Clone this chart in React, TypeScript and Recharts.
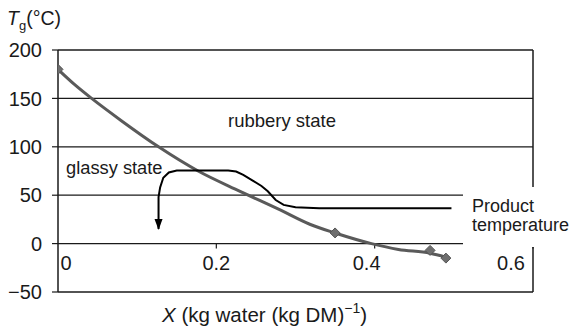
import React from "react";
import {
  ComposedChart,
  Line,
  Scatter,
  XAxis,
  YAxis,
  ReferenceLine,
} from "recharts";

// ---- data ----
const xTicks = [0, 0.2, 0.4, 0.6];
const yTicks = [-50, 0, 50, 100, 150, 200];
const gridLinesY = [0, 50, 100, 150];
const xTickMarks = [0.2, 0.4, 0.6];

// glass transition curve (Tg vs moisture content X)
const tgX = [0, 0.02, 0.0425, 0.08, 0.127, 0.177, 0.23, 0.28, 0.318, 0.35, 0.396, 0.43, 0.47, 0.49];
const tgY = [180, 165, 150, 127, 100, 75, 54, 35, 20, 11, 0, -6, -10, -14];

// measured Tg points
const tgPointX = [0, 0.35, 0.47, 0.49];
const tgPointY = [180, 11, -7, -15];

// product temperature path (drying goes from right to left)
const productX = [0.497, 0.33, 0.3, 0.285, 0.275, 0.265, 0.257, 0.247, 0.234, 0.225, 0.215, 0.15, 0.14, 0.133, 0.129, 0.127, 0.127];
const productY = [36.5, 36.5, 37.5, 40, 45, 54, 59.5, 64.5, 71, 74.5, 75.5, 75.5, 73.5, 68, 58, 48, 15];

const tgLine = tgX.map((x, i) => ({ x, y: tgY[i] }));
const tgPoints = tgPointX.map((x, i) => ({ x, y: tgPointY[i] }));
const productLine = productX.map((x, i) => ({ x, y: productY[i] }));

const FONT = "'Liberation Sans', Arial, Helvetica, sans-serif";
const INK = "#1a1a1a";

const xLabelShift: Record<string, number> = { "0": 8, "0.2": 0, "0.4": -8, "0.6": -22 };

const XTick = (props: any) => {
  const { x, y, payload } = props;
  const label = String(payload.value);
  return (
    <text
      x={x + (xLabelShift[label] ?? 0)}
      y={y - 22.5}
      textAnchor="middle"
      fontSize={20}
      fontFamily={FONT}
      fill={INK}
    >
      {label}
    </text>
  );
};

const fmtY = (v: number) => (v < 0 ? "\u2212" + Math.abs(v) : String(v));

const Diamond = (props: any) => {
  const { cx, cy } = props;
  if (cx == null || cy == null) return <g />;
  const r = 5;
  return (
    <path
      d={`M${cx},${cy - r}L${cx + r},${cy}L${cx},${cy + r}L${cx - r},${cy}Z`}
      fill="#6e6e6e"
      stroke="#555"
      strokeWidth={1}
    />
  );
};

const ArrowDot = (props: any) => {
  const { cx, cy, index } = props;
  if (index !== productLine.length - 1 || cx == null) return <g key={`d${index}`} />;
  return (
    <path
      key={`d${index}`}
      d={`M${cx - 4},${cy - 10}L${cx + 4},${cy - 10}L${cx},${cy + 1}Z`}
      fill="#000"
    />
  );
};

export default function App() {
  return (
    <div style={{ position: "absolute", left: 0, top: 0, width: 571, height: 333, background: "#fff" }}>
      <ComposedChart
        width={571}
        height={333}
        margin={{ top: 50, right: 38, bottom: 0, left: 0 }}
        style={{ fontFamily: FONT }}
      >
        <XAxis
          dataKey="x"
          type="number"
          domain={[0, 0.6]}
          ticks={xTicks}
          axisLine={false}
          tickLine={false}
          tickSize={0}
          tickMargin={0}
          height={41}
          tick={<XTick />}
          allowDataOverflow
        />
        <YAxis
          dataKey="y"
          type="number"
          domain={[-50, 200]}
          ticks={yTicks}
          width={58}
          axisLine={{ stroke: INK, strokeWidth: 1.5 }}
          tickLine={{ stroke: INK, strokeWidth: 1.2 }}
          tickSize={6}
          tickMargin={10}
          tickFormatter={fmtY}
          tick={{ fontSize: 20, fill: INK, fontFamily: FONT }}
          allowDataOverflow
        />
        {gridLinesY.map((v) => (
          <ReferenceLine key={`g${v}`} y={v} stroke={INK} strokeWidth={1.3} />
        ))}
        <ReferenceLine y={200} stroke={INK} strokeWidth={1.5} />
        <ReferenceLine y={-50} stroke={INK} strokeWidth={1.5} />
        <ReferenceLine x={0.6} stroke={INK} strokeWidth={1.5} />
        {xTickMarks.map((v) => (
          <ReferenceLine
            key={`t${v}`}
            segment={[
              { x: v, y: 0 },
              { x: v, y: -5 },
            ]}
            stroke={INK}
            strokeWidth={1.2}
          />
        ))}
        <Line
          data={tgLine}
          dataKey="y"
          type="monotone"
          stroke="#5a5a5a"
          strokeWidth={3}
          dot={false}
          activeDot={false}
          isAnimationActive={false}
        />
        <Scatter data={tgPoints} dataKey="y" shape={<Diamond />} isAnimationActive={false} />
        <Line
          data={productLine}
          dataKey="y"
          type="linear"
          stroke="#000"
          strokeWidth={2}
          dot={ArrowDot}
          activeDot={false}
          isAnimationActive={false}
        />
      </ComposedChart>
      <svg
        width={571}
        height={333}
        style={{ position: "absolute", left: 0, top: 0, pointerEvents: "none" }}
        fontFamily={FONT}
      >
        <rect x={463} y={187} width={108} height={60} fill="#fff" />
        <text x={472} y={211.5} fontSize={18} fill={INK}>Product</text>
        <text x={472} y={230.5} fontSize={18} fill={INK}>temperature</text>
        <text x={228} y={126.5} fontSize={18.5} fill={INK}>rubbery state</text>
        <text x={66} y={174} fontSize={18.3} fill={INK}>glassy state</text>
        <text x={7} y={25} fontSize={19.5} fill={INK}>
          <tspan fontStyle="italic">T</tspan>
          <tspan fontSize={13} dy={5}>g</tspan>
          <tspan dy={-5}>(°C)</tspan>
        </text>
        <text x={162} y={322} fontSize={20.5} fill={INK}>
          <tspan fontStyle="italic">X</tspan>
          <tspan> (kg water (kg DM)</tspan>
          <tspan fontSize={14} dy={-9}>{"\u22121"}</tspan>
          <tspan dy={9}>)</tspan>
        </text>
      </svg>
    </div>
  );
}
